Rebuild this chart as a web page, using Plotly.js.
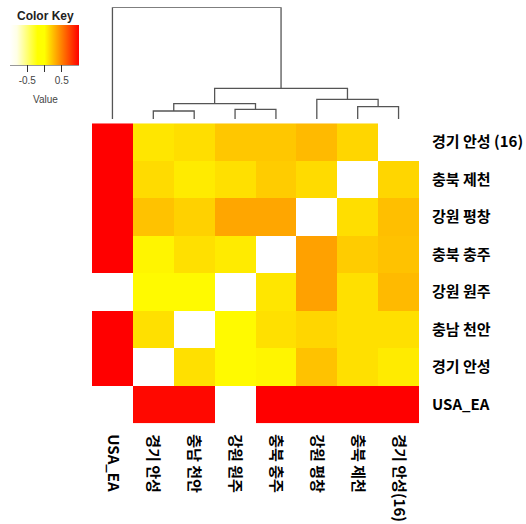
<!DOCTYPE html>
<html><head><meta charset="utf-8">
<script src="https://cdn.plot.ly/plotly-3.0.1.min.js"></script>
<style>html,body{margin:0;padding:0;background:#fff}#chart{width:526px;height:524px}</style>
</head><body><div id="chart"></div>
<script>
// Column labels (left to right) and row labels (top to bottom)
const colLabels = ['USA_EA','경기 안성','충남 천안','강원 원주','충북 충주','강원 평창','충북 제천','경기 안성(16)'];
const rowLabels = ['경기 안성 (16)','충북 제천','강원 평창','충북 충주','강원 원주','충남 천안','경기 안성','USA_EA'];

// Cell values per row (null = blank cell)
const rowAnseong16  = [1.0, 0.10, 0.13, 0.22, 0.22, 0.27, 0.16, null];
const rowJecheon    = [1.0, 0.14, 0.08, 0.12, 0.20, 0.14, null, 0.16];
const rowPyeongchang= [1.0, 0.24, 0.18, 0.35, 0.35, null, 0.13, 0.25];
const rowChungju    = [1.0, 0.04, 0.12, 0.08, null, 0.37, 0.20, 0.24];
const rowWonju      = [null,0.02, 0.02, null, 0.10, 0.37, 0.12, 0.27];
const rowCheonan    = [1.0, 0.12, null, 0.02, 0.12, 0.16, 0.12, 0.12];
const rowAnseong    = [1.0, null, 0.12, 0.02, 0.04, 0.24, 0.12, 0.08];
const rowUSA        = [null,0.97, 0.97, null, 1.0, 1.0, 1.0, 1.0];

// Column dendrogram merges: [left node, right node, height]; leaves are 0..7, new nodes 8+
const merges = [
  [1, 2, 8.0],
  [3, 4, 9.7],
  [6, 7, 12.3],
  [8, 9, 15.3],
  [5, 10, 19.7],
  [11, 12, 30.7],
  [0, 13, 111.7]
];

const keyTicks = [-0.5, 0, 0.5];
const keyTickText = ['-0.5', '', '0.5'];

const z = [rowAnseong16,rowJecheon,rowPyeongchang,rowChungju,rowWonju,rowCheonan,rowAnseong,rowUSA];

// build dendrogram segments
const pos = [], hgt = [];
for (let i = 0; i < colLabels.length; i++) { pos.push(i); hgt.push(0); }
const dx = [], dy = [];
merges.forEach(m => {
  const [a, b, h] = m;
  dx.push(pos[a], pos[a], pos[b], pos[b], null);
  dy.push(hgt[a], h, h, hgt[b], null);
  pos.push((pos[a] + pos[b]) / 2); hgt.push(h);
});

const W = 526, H = 524;
const hm = {
  type: 'heatmap', z: z, x: colLabels, y: rowLabels,
  xaxis: 'x', yaxis: 'y',
  zmin: -1, zmax: 1,
  colorscale: [[0, '#ffffff'], [0.1, '#ffffe6'], [0.4, '#ffff00'], [0.5, '#ffff00'], [1, '#ff0000']],
  showscale: true,
  colorbar: {
    orientation: 'h', xref: 'paper', yref: 'paper',
    x: 10 / W, xanchor: 'left', y: 1 - 25 / H, yanchor: 'top',
    lenmode: 'pixels', len: 69, thicknessmode: 'pixels', thickness: 40,
    xpad: 0, ypad: 0, outlinewidth: 0,
    tickmode: 'array', tickvals: keyTicks, ticktext: keyTickText,
    ticks: 'outside', ticklen: 7, tickcolor: '#333', tickwidth: 1,
    tickfont: {family: 'Liberation Sans, Arial', size: 10, color: '#444'}
  },
  hoverinfo: 'skip'
};
const dend = {
  type: 'scatter', mode: 'lines', x: dx, y: dy, xaxis: 'x2', yaxis: 'y2',
  line: {color: '#555', width: 1.3}, cliponaxis: false, hoverinfo: 'skip', showlegend: false
};

const xd = [92 / W, 419 / W];
const layout = {
  width: W, height: H,
  margin: {l: 0, r: 0, t: 0, b: 0},
  paper_bgcolor: '#fff', plot_bgcolor: '#fff',
  showlegend: false,
  xaxis: {
    domain: xd, anchor: 'y', type: 'category', categoryorder: 'array', categoryarray: colLabels,
    range: [-0.5, 7.5], tickangle: 90, ticks: '', showgrid: false, zeroline: false, showline: false,
    ticklabelstandoff: 10, automargin: false,
    tickfont: {family: 'Noto Sans CJK KR', size: 15, color: '#000', weight: 'bold'}
  },
  yaxis: {
    domain: [1 - 423.3 / H, 1 - 123.3 / H], anchor: 'x', side: 'right',
    type: 'category', categoryorder: 'array', categoryarray: rowLabels,
    range: [7.5, -0.5], ticks: '', showgrid: false, zeroline: false, showline: false,
    ticklabelstandoff: 12, automargin: false,
    tickfont: {family: 'Noto Sans CJK KR', size: 15, color: '#000', weight: 'bold'}
  },
  xaxis2: {domain: xd, anchor: 'y2', range: [-0.5, 7.5], visible: false},
  yaxis2: {domain: [1 - 119 / H, 1 - 7.3 / H], anchor: 'x2', range: [0, 111.7], visible: false},
  annotations: [
    {xref: 'paper', yref: 'paper', x: 45 / W, y: 1 - 16 / H, text: 'Color Key', showarrow: false,
     xanchor: 'center', yanchor: 'middle', font: {family: 'Liberation Sans, Arial', size: 12, color: '#222', weight: 'bold'}},
    {xref: 'paper', yref: 'paper', x: 45 / W, y: 1 - 99 / H, text: 'Value', showarrow: false,
     xanchor: 'center', yanchor: 'middle', font: {family: 'Liberation Sans, Arial', size: 10, color: '#444'}}
  ],
  shapes: [
    {type: 'line', xref: 'paper', yref: 'paper', x0: 10 / W, x1: 79 / W, y0: 1 - 65 / H, y1: 1 - 65 / H,
     line: {color: '#333', width: 1}}
  ]
};
Plotly.newPlot('chart', [hm, dend], layout, {displayModeBar: false, staticPlot: true});
</script></body></html>
